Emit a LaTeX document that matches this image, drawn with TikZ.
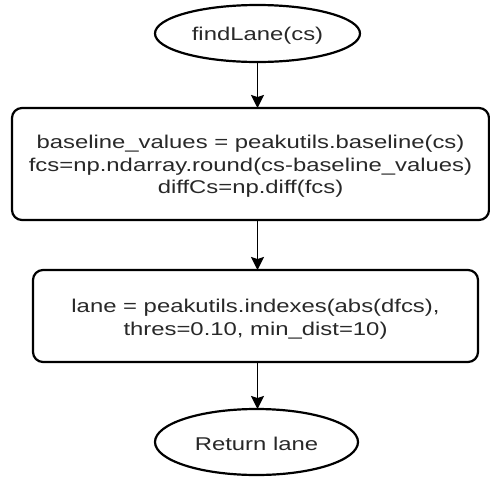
\documentclass[tikz,border=0pt]{standalone}
\usepackage{fontspec}
\setmainfont[FakeStretch=1.29]{Liberation Sans}
\usetikzlibrary{shapes.geometric,arrows.meta}
\definecolor{txt}{RGB}{40,40,40}
\begin{document}
\begin{tikzpicture}[x=1pt,y=-1pt,
  every node/.style={inner sep=0pt,outer sep=0pt},
  label text/.style={align=center,text=txt,font=\fontsize{18.5}{22.6}\selectfont},
  term/.style={ellipse,draw,line width=2.2pt},
  proc/.style={rectangle,rounded corners=10pt,draw,line width=2.2pt},
  flow/.style={line width=1.9pt,-{Stealth[length=13pt,width=13pt,inset=2pt]}}]
\useasboundingbox (0,0) rectangle (490,477);
\node[term,minimum width=205pt,minimum height=57pt] (e1) at (257.5,33.5) {};
\node[label text] (e1t) at ([yshift=-2pt]e1.center) {findLane(cs)};
\node[proc,minimum width=477pt,minimum height=112pt] (b1) at (250.5,164) {};
\node[label text] (b1t) at ([yshift=-2.5pt]b1.center)
  {baseline\_values = peakutils.baseline(cs)\\fcs=np.ndarray.round(cs-baseline\_values)\\diffCs=np.diff(fcs)};
\node[proc,minimum width=445pt,minimum height=92pt] (b2) at (255.5,316) {};
\node[label text] (b2t) at ([yshift=-3pt]b2.center)
  {lane = peakutils.indexes(abs(dfcs),\\thres=0.10, min\_dist=10)};
\node[term,minimum width=203pt,minimum height=66pt] (e2) at (256.5,442) {};
\node[label text] (e2t) at ([yshift=-1.5pt]e2.center) {Return lane};
\draw[flow] (e1.south) -- (e1.south |- b1.north);
\draw[flow] (e1.south |- b1.south) -- (e1.south |- b2.north);
\draw[flow] (e1.south |- b2.south) -- (e1.south |- e2.north);
\end{tikzpicture}
\end{document}
